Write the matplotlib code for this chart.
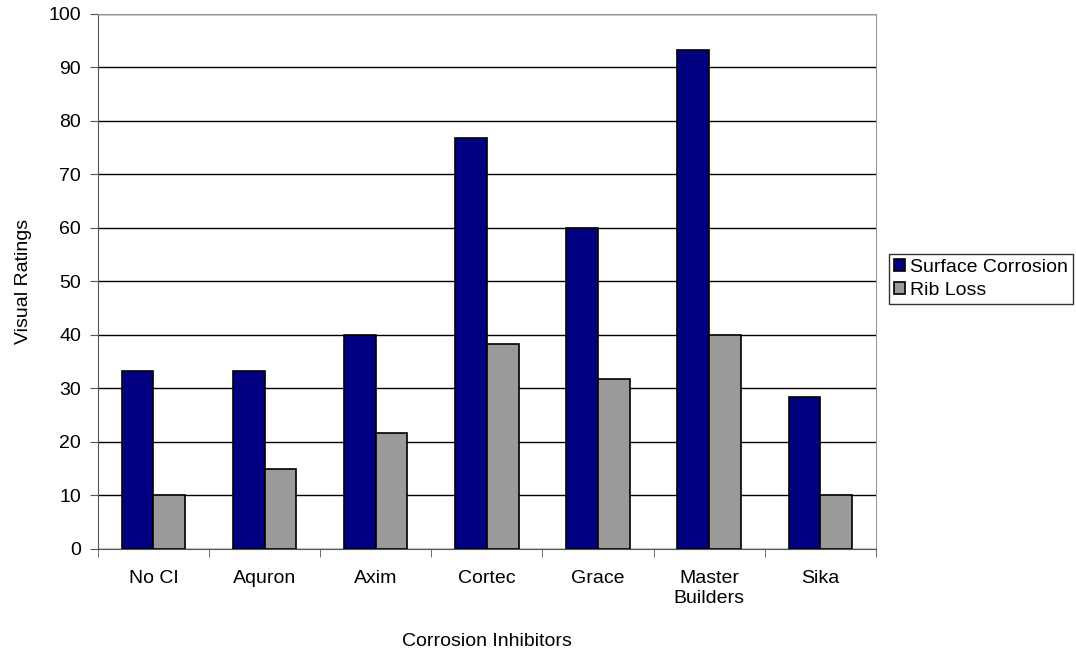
import numpy as np
import matplotlib
matplotlib.use('Agg')
import matplotlib.pyplot as plt

plt.rcParams['font.family'] = ['Liberation Sans', 'DejaVu Sans']

categories = ["No CI", "Aquron", "Axim", "Cortec", "Grace", "Master\nBuilders", "Sika"]
surface_corrosion = [33.3, 33.3, 40.0, 76.7, 60.0, 93.3, 28.3]
rib_loss = [10.0, 15.0, 21.7, 38.3, 31.7, 40.0, 10.0]

fig = plt.figure(figsize=(10.76, 6.55), dpi=100)
ax = fig.add_axes([0.091, 0.162, 0.723, 0.817])

x = np.arange(len(categories))
w = 0.285
ax.bar(x - w / 2, surface_corrosion, w, color='#000080', edgecolor='black',
       linewidth=1.2, label='Surface Corrosion', zorder=3)
ax.bar(x + w / 2, rib_loss, w, color='#9a9a9a', edgecolor='black',
       linewidth=1.2, label='Rib Loss', zorder=3)

ax.set_xlim(-0.5, len(categories) - 0.5)
ax.set_ylim(0, 100)
ax.set_yticks(np.arange(0, 101, 10))
ax.yaxis.grid(True, color='black', linewidth=1)
ax.set_axisbelow(True)

ax.set_xticks(x)
ax.set_xticklabels(categories, fontsize=14, linespacing=1.25)
ax.set_xticks(np.arange(-0.5, len(categories), 1), minor=True)
ax.tick_params(axis='x', which='major', length=0, pad=15)
ax.tick_params(axis='x', which='minor', length=6, color='#555555')
ax.tick_params(axis='y', labelsize=14, length=6, pad=6, color='#555555')

for side in ['top', 'right']:
    ax.spines[side].set_color('#999999')
for side in ['left', 'bottom']:
    ax.spines[side].set_color('#555555')

ax.set_xlabel('Corrosion Inhibitors', fontsize=14, labelpad=19)
ax.set_ylabel('Visual Ratings', fontsize=14, labelpad=12)

leg = ax.legend(loc='upper left', bbox_to_anchor=(0.826, 0.612),
                bbox_transform=fig.transFigure, fontsize=14, frameon=True,
                fancybox=False, edgecolor='black', handlelength=0.6,
                handleheight=0.6, handletextpad=0.25, borderpad=0.25,
                labelspacing=0.3, borderaxespad=0)
leg.get_frame().set_linewidth(1)

fig.savefig('out.png', dpi=100)
